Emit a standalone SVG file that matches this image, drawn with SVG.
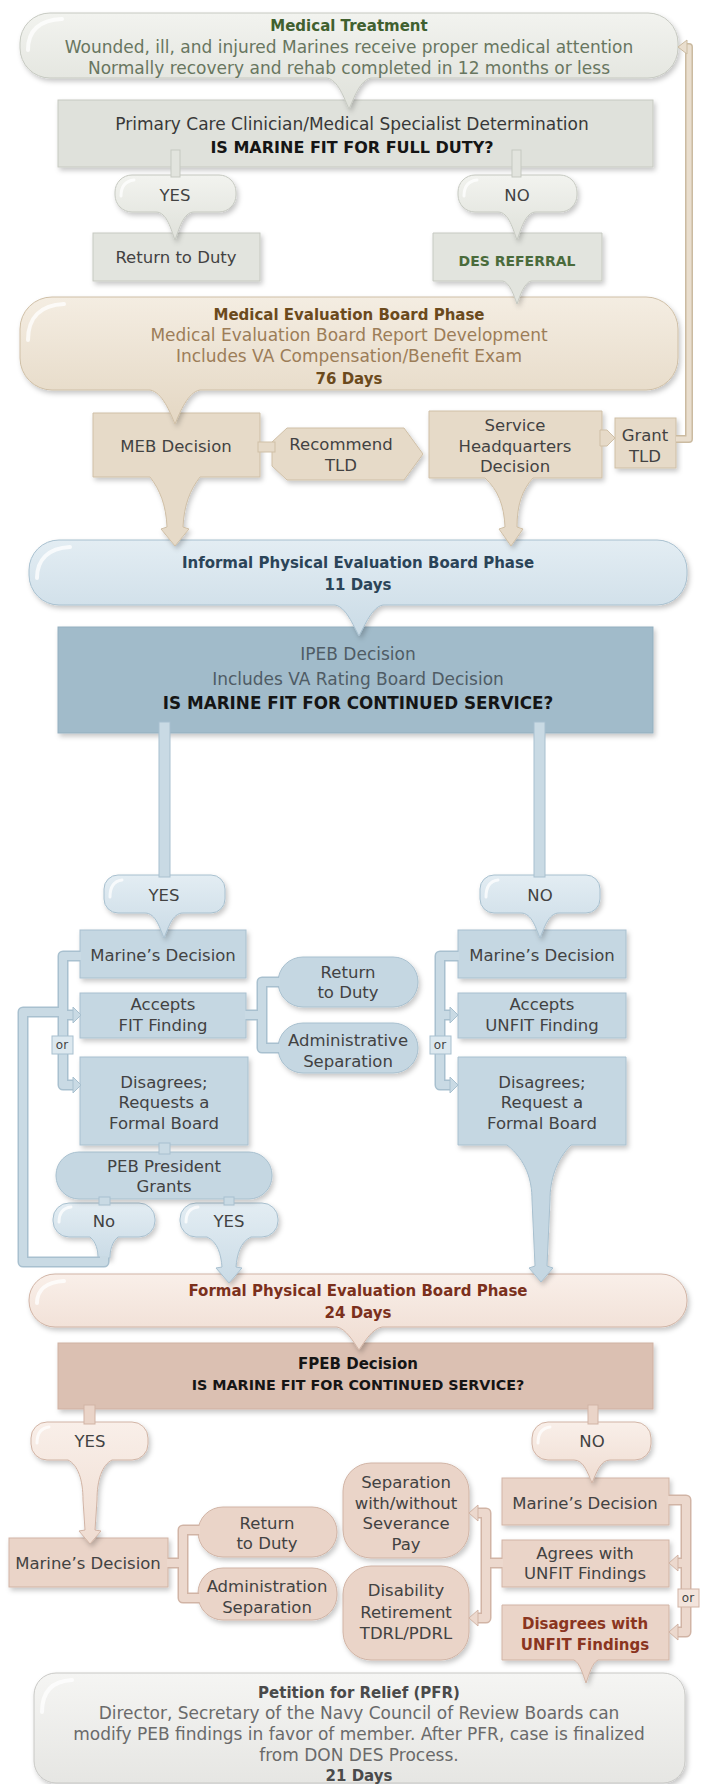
<svg xmlns="http://www.w3.org/2000/svg" width="704" height="1784" viewBox="0 0 704 1784">
<defs>
<filter id="sh" x="-6%" y="-10%" width="116%" height="135%"><feDropShadow dx="2" dy="3" stdDeviation="2.5" flood-color="#000" flood-opacity="0.22"/></filter>
<linearGradient id="gG" x1="0" y1="0" x2="0" y2="1"><stop offset="0" stop-color="#f2f3ef"/><stop offset="1" stop-color="#dfe1da"/></linearGradient>
<linearGradient id="gB" x1="0" y1="0" x2="0" y2="1"><stop offset="0" stop-color="#f4ede2"/><stop offset="1" stop-color="#e4d7c3"/></linearGradient>
<linearGradient id="gL" x1="0" y1="0" x2="0" y2="1"><stop offset="0" stop-color="#e3edf3"/><stop offset="1" stop-color="#cadbe6"/></linearGradient>
<linearGradient id="gP" x1="0" y1="0" x2="0" y2="1"><stop offset="0" stop-color="#f9efe9"/><stop offset="1" stop-color="#efdcd1"/></linearGradient>
<linearGradient id="gW" x1="0" y1="0" x2="0" y2="1"><stop offset="0" stop-color="#f5f5f3"/><stop offset="1" stop-color="#e6e6e3"/></linearGradient>
<style>
.tx{font-family:"DejaVu Sans","Liberation Sans",sans-serif;font-size:16.5px;text-anchor:middle;fill:#424242}
.lg{font-size:17px}
.bd{font-weight:bold;font-size:15px}
.cap{font-weight:bold;fill:#151515}
.or{font-size:12px;fill:#444}
.g{fill:#e2e4de;stroke:#c6c9c1;stroke-width:1}
.gp{fill:url(#gG);stroke:#c6c9c1;stroke-width:1}
.be{fill:#e6dac8;stroke:#cfbfa6;stroke-width:1}
.bp{fill:url(#gB);stroke:#cfbfa6;stroke-width:1}
.bl{fill:#c5d7e2;stroke:#a8c0cf;stroke-width:1}
.blp{fill:url(#gL);stroke:#a8c0cf;stroke-width:1}
.ipd{fill:#a1bbca;stroke:#93afbf;stroke-width:1}
.pk{fill:#ead4c8;stroke:#d1b4a5;stroke-width:1}
.pkp{fill:url(#gP);stroke:#d1b4a5;stroke-width:1}
.fpd{fill:#dbc0b2;stroke:#cfb1a2;stroke-width:1}
.wh{fill:url(#gW);stroke:#c8c8c5;stroke-width:1}
.sh{filter:url(#sh)}
.hl{fill:none;stroke:#fff;stroke-width:4;stroke-linecap:round;opacity:.75}
.lo{fill:none;stroke-linejoin:round;stroke-width:11}
.li{fill:none;stroke-linejoin:round;stroke-width:8}
.blo{stroke:#a8c0cf}.bli{stroke:#c9dae4}
.pko{stroke:#d1b4a5}.pki{stroke:#ecd8cd}
.beo{stroke:#cbbba1}.bei{stroke:#e9dece}
</style>
</defs>
<rect width="704" height="1784" fill="#fff"/>

<!-- nodes, drawn bottom to top so tails overlap the next node -->
<g id="n-pfr">
<rect class="wh sh" x="34" y="1673" width="651" height="110" rx="22"/>
<path class="hl" d="M 42 1712 C 42 1692 52 1681 72 1680"/>
<text class="tx bd" x="359" y="1698" style="fill:#4a4a4a">Petition for Relief (PFR)</text>
<text class="tx lg" x="359" y="1719" style="fill:#6a6a6a">Director, Secretary of the Navy Council of Review Boards can</text>
<text class="tx lg" x="359" y="1740" style="fill:#6a6a6a">modify PEB findings in favor of member. After PFR, case is finalized</text>
<text class="tx lg" x="359" y="1761" style="fill:#6a6a6a">from DON DES Process.</text>
<text class="tx bd" x="359" y="1781" style="fill:#4a4a4a">21 Days</text>
</g>
<g id="n-disagree-unfit">
<path class="pk sh" d="M 502 1605 H 669 V 1660 H 598 C 592 1663 589 1675 586 1683 C 583 1675 580 1663 574 1660 H 502 Z"/>
<text class="tx bd" x="585" y="1629" style="fill:#8a3520">Disagrees with</text>
<text class="tx bd" x="585" y="1650" style="fill:#8a3520">UNFIT Findings</text>
</g>
<g id="n-agree-unfit">
<rect class="pk sh" x="502" y="1540" width="167" height="47"/>
<text class="tx" x="585" y="1559">Agrees with</text>
<text class="tx" x="585" y="1579">UNFIT Findings</text>
</g>
<g id="n-md-fpeb-r">
<rect class="pk sh" x="502" y="1478" width="167" height="47"/>
<text class="tx" x="585" y="1509">Marine’s Decision</text>
</g>
<g id="n-no-fpeb">
<path class="pkp sh" d="M 548 1422 H 635 A 16 16 0 0 1 651 1438 V 1444 A 16 16 0 0 1 635 1460 H 610 C 600 1460 596 1474 592 1483 C 588 1474 584 1460 574 1460 H 548 A 16 16 0 0 1 532 1444 V 1438 A 16 16 0 0 1 548 1422 Z"/>
<path class="hl" d="M 538 1443 C 538 1433 542 1428 550 1427" style="stroke-width:3"/>
<text class="tx" x="592" y="1447">NO</text>
</g>
<g id="n-disability">
<rect class="pk sh" x="343" y="1566" width="126" height="94" rx="28"/>
<text class="tx" x="406" y="1596">Disability</text>
<text class="tx" x="406" y="1618">Retirement</text>
<text class="tx" x="406" y="1639">TDRL/PDRL</text>
</g>
<g id="n-separation">
<rect class="pk sh" x="343" y="1463" width="126" height="95" rx="28"/>
<text class="tx" x="406" y="1488">Separation</text>
<text class="tx" x="406" y="1509">with/without</text>
<text class="tx" x="406" y="1529">Severance</text>
<text class="tx" x="406" y="1550">Pay</text>
</g>
<g id="n-admin-fpeb">
<rect class="pk sh" x="198" y="1568" width="139" height="52" rx="25"/>
<text class="tx" x="267" y="1592">Administration</text>
<text class="tx" x="267" y="1613">Separation</text>
</g>
<g id="n-rtd-fpeb">
<rect class="pk sh" x="198" y="1507" width="139" height="50" rx="25"/>
<text class="tx" x="267" y="1529">Return</text>
<text class="tx" x="267" y="1549">to Duty</text>
</g>
<g id="n-md-fpeb-l">
<rect class="pk sh" x="9" y="1538" width="159" height="49"/>
<text class="tx" x="88" y="1569">Marine’s Decision</text>
</g>
<g id="n-yes-fpeb">
<path class="pkp sh" d="M 47 1422 H 132 A 16 16 0 0 1 148 1438 V 1444 A 16 16 0 0 1 132 1460 H 112 C 102 1465 97 1480 97 1500 L 95 1530 L 101 1531 L 90 1544 L 79 1531 L 85 1530 L 83 1500 C 83 1480 78 1465 68 1460 H 47 A 16 16 0 0 1 31 1444 V 1438 A 16 16 0 0 1 47 1422 Z"/>
<path class="hl" d="M 37 1443 C 37 1433 41 1428 49 1427" style="stroke-width:3"/>
<text class="tx" x="90" y="1447">YES</text>
</g>
<g id="n-fpeb-dec">
<rect class="fpd sh" x="58" y="1343" width="595" height="66"/>
<text class="tx bd cap" x="358" y="1369">FPEB Decision</text>
<text class="tx cap" x="358" y="1390" style="font-size:14.3px">IS MARINE FIT FOR CONTINUED SERVICE?</text>
</g>
<g id="n-fpeb">
<path class="pkp sh" d="M 55 1274 H 661 A 26 26 0 0 1 687 1300 V 1301 A 26 26 0 0 1 661 1327 H 382 C 372 1329 365 1341 359 1350 C 353 1341 346 1329 337 1327 H 55 A 26 26 0 0 1 29 1301 V 1300 A 26 26 0 0 1 55 1274 Z"/>
<path class="hl" d="M 37 1303 C 37 1290 46 1282 64 1281"/>
<text class="tx bd" x="358" y="1296" style="fill:#7b301c">Formal Physical Evaluation Board Phase</text>
<text class="tx bd" x="358" y="1318" style="fill:#7b301c">24 Days</text>
</g>
<g id="n-peb-yes">
<path class="blp sh" d="M 196 1203 H 262 A 16 16 0 0 1 278 1219 V 1221 A 16 16 0 0 1 262 1237 H 251 C 240 1242 237 1255 236 1267 L 242 1268 L 229 1283 L 216 1268 L 222 1267 C 221 1255 218 1242 207 1237 H 196 A 16 16 0 0 1 180 1221 V 1219 A 16 16 0 0 1 196 1203 Z"/>
<path class="hl" d="M 186 1222 C 186 1213 190 1208 198 1207" style="stroke-width:3"/>
<text class="tx" x="229" y="1227">YES</text>
</g>
<g id="n-peb-no">
<path class="blp sh" d="M 69 1203 H 139 A 16 16 0 0 1 155 1219 V 1221 A 16 16 0 0 1 139 1237 H 118 C 112 1242 110 1250 110 1258 H 98 C 98 1250 96 1242 90 1237 H 69 A 16 16 0 0 1 53 1221 V 1219 A 16 16 0 0 1 69 1203 Z"/>
<path class="hl" d="M 59 1222 C 59 1213 63 1208 71 1207" style="stroke-width:3"/>
<text class="tx" x="104" y="1227">No</text>
</g>
<g id="n-peb-pres">
<rect class="bl sh" x="56" y="1152" width="216" height="47" rx="23"/>
<text class="tx" x="164" y="1172">PEB President</text>
<text class="tx" x="164" y="1192">Grants</text>
</g>
<g id="n-dis-r">
<path class="bl sh" d="M 458 1057 H 626 V 1145 H 571 C 556 1160 550 1180 550 1200 L 547 1266 L 553 1268 L 541 1282 L 529 1268 L 535 1266 L 532 1200 C 532 1180 526 1160 507 1145 H 458 Z"/>
<text class="tx" x="542" y="1088">Disagrees;</text>
<text class="tx" x="542" y="1108">Request a</text>
<text class="tx" x="542" y="1129">Formal Board</text>
</g>
<g id="n-dis-l">
<rect class="bl sh" x="80" y="1057" width="168" height="88"/>
<text class="tx" x="164" y="1088">Disagrees;</text>
<text class="tx" x="164" y="1108">Requests a</text>
<text class="tx" x="164" y="1129">Formal Board</text>
</g>
<g id="n-admin-ipeb">
<rect class="bl sh" x="278" y="1023" width="140" height="50" rx="25"/>
<text class="tx" x="348" y="1046">Administrative</text>
<text class="tx" x="348" y="1067">Separation</text>
</g>
<g id="n-rtd-ipeb">
<rect class="bl sh" x="278" y="957" width="140" height="50" rx="25"/>
<text class="tx" x="348" y="978">Return</text>
<text class="tx" x="348" y="998">to Duty</text>
</g>
<g id="n-acc-unfit">
<rect class="bl sh" x="458" y="993" width="168" height="45"/>
<text class="tx" x="542" y="1010">Accepts</text>
<text class="tx" x="542" y="1031">UNFIT Finding</text>
</g>
<g id="n-acc-fit">
<rect class="bl sh" x="80" y="993" width="166" height="45"/>
<text class="tx" x="163" y="1010">Accepts</text>
<text class="tx" x="163" y="1031">FIT Finding</text>
</g>
<g id="n-md-r">
<rect class="bl sh" x="458" y="930" width="168" height="48"/>
<text class="tx" x="542" y="961">Marine’s Decision</text>
</g>
<g id="n-md-l">
<rect class="bl sh" x="80" y="930" width="166" height="48"/>
<text class="tx" x="163" y="961">Marine’s Decision</text>
</g>
<g id="n-ipeb-no">
<path class="blp sh" d="M 494 875 H 586 A 14 14 0 0 1 600 889 V 899 A 14 14 0 0 1 586 913 H 559 C 548 913 544 929 540 938 C 536 929 532 913 521 913 H 494 A 14 14 0 0 1 480 899 V 889 A 14 14 0 0 1 494 875 Z"/>
<path class="hl" d="M 486 897 C 486 887 490 881 498 880" style="stroke-width:3"/>
<text class="tx" x="540" y="901">NO</text>
</g>
<g id="n-ipeb-yes">
<path class="blp sh" d="M 118 875 H 211 A 14 14 0 0 1 225 889 V 899 A 14 14 0 0 1 211 913 H 183 C 172 913 168 929 164 938 C 160 929 156 913 145 913 H 118 A 14 14 0 0 1 104 899 V 889 A 14 14 0 0 1 118 875 Z"/>
<path class="hl" d="M 110 897 C 110 887 114 881 122 880" style="stroke-width:3"/>
<text class="tx" x="164" y="901">YES</text>
</g>
<g id="n-ipeb-dec">
<rect class="ipd sh" x="58" y="627" width="595" height="106"/>
<text class="tx lg" x="358" y="660" style="fill:#4f5c65">IPEB Decision</text>
<text class="tx lg" x="358" y="685" style="fill:#4f5c65">Includes VA Rating Board Decision</text>
<text class="tx cap" x="358" y="709" style="font-size:16.8px">IS MARINE FIT FOR CONTINUED SERVICE?</text>
</g>
<g id="n-ipeb">
<path class="blp sh" d="M 59 540 H 657 A 30 30 0 0 1 687 570 V 575 A 30 30 0 0 1 657 605 H 383 C 372 607 365 625 359 636 C 353 625 346 607 335 605 H 59 A 30 30 0 0 1 29 575 V 570 A 30 30 0 0 1 59 540 Z"/>
<path class="hl" d="M 37 578 C 37 560 48 548 70 547"/>
<text class="tx bd" x="358" y="568" style="fill:#2b4458">Informal Physical Evaluation Board Phase</text>
<text class="tx bd" x="358" y="590" style="fill:#2b4458">11 Days</text>
</g>
<g id="n-grant">
<rect class="be sh" x="615" y="418" width="61" height="50"/>
<text class="tx" x="645" y="441">Grant</text>
<text class="tx" x="645" y="462">TLD</text>
</g>
<g id="n-shq">
<path class="be sh" d="M 429 411 H 602 V 478 H 533 C 522 490 517 505 517 527 L 523 529 L 511 546 L 499 529 L 505 527 C 504 505 498 490 485 478 H 429 Z"/>
<text class="tx" x="515" y="431">Service</text>
<text class="tx" x="515" y="452">Headquarters</text>
<text class="tx" x="515" y="472">Decision</text>
</g>
<g id="n-rec">
<path class="be sh" d="M 287 428 H 404 L 423 454 L 404 480 H 287 L 272 466 V 442 Z" stroke-linejoin="round"/>
<text class="tx" x="341" y="450">Recommend</text>
<text class="tx" x="341" y="471">TLD</text>
</g>
<g id="n-meb-dec">
<path class="be sh" d="M 93 413 H 260 V 477 H 200 C 190 490 184 505 183 527 L 189 529 L 175 546 L 161 529 L 167 527 C 166 505 160 490 150 477 H 93 Z"/>
<text class="tx" x="176" y="452">MEB Decision</text>
</g>
<g id="n-meb">
<path class="bp sh" d="M 52 297 H 646 A 32 32 0 0 1 678 329 V 358 A 32 32 0 0 1 646 390 H 200 C 188 392 180 412 175 424 C 170 412 162 392 150 390 H 52 A 32 32 0 0 1 20 358 V 329 A 32 32 0 0 1 52 297 Z"/>
<path class="hl" d="M 28 340 C 28 318 40 305 64 304"/>
<text class="tx bd" x="349" y="320" style="fill:#6b4a1c">Medical Evaluation Board Phase</text>
<text class="tx lg" x="349" y="341" style="fill:#9c7d58">Medical Evaluation Board Report Development</text>
<text class="tx lg" x="349" y="362" style="fill:#9c7d58">Includes VA Compensation/Benefit Exam</text>
<text class="tx bd" x="349" y="384" style="fill:#6b4a1c">76 Days</text>
</g>
<g id="n-des">
<path class="g sh" d="M 433 233 H 602 V 281 H 531 C 524 283 520 296 517 304 C 514 296 510 283 503 281 H 433 Z"/>
<text class="tx bd" x="517" y="266" style="fill:#4a6b3b;font-size:14px">DES REFERRAL</text>
</g>
<g id="n-rtd1">
<rect class="g sh" x="93" y="233" width="167" height="48"/>
<text class="tx" x="176" y="263">Return to Duty</text>
</g>
<g id="n-no1">
<path class="gp sh" d="M 475 175 H 560 A 17 17 0 0 1 577 192 V 195 A 17 17 0 0 1 560 212 H 536 C 525 212 521 230 517 240 C 513 230 509 212 498 212 H 475 A 17 17 0 0 1 458 195 V 192 A 17 17 0 0 1 475 175 Z"/>
<path class="hl" d="M 464 196 C 464 187 468 181 477 180" style="stroke-width:3"/>
<text class="tx" x="517" y="201">NO</text>
</g>
<g id="n-yes1">
<path class="gp sh" d="M 132 175 H 219 A 17 17 0 0 1 236 192 V 195 A 17 17 0 0 1 219 212 H 194 C 183 212 179 230 175 240 C 171 230 167 212 156 212 H 132 A 17 17 0 0 1 115 195 V 192 A 17 17 0 0 1 132 175 Z"/>
<path class="hl" d="M 121 196 C 121 187 125 181 134 180" style="stroke-width:3"/>
<text class="tx" x="175" y="201">YES</text>
</g>
<g id="n-pcc">
<rect class="g sh" x="58" y="100" width="595" height="67" style="fill:#dfe1db"/>
<text class="tx lg" x="352" y="130" style="fill:#383838">Primary Care Clinician/Medical Specialist Determination</text>
<text class="tx cap" x="352" y="153" style="font-size:16px">IS MARINE FIT FOR FULL DUTY?</text>
</g>
<g id="n-mt">
<path class="gp sh" d="M 50 13 H 648 A 30 30 0 0 1 678 43 V 48 A 30 30 0 0 1 648 78 H 371 C 360 80 354 98 349 109 C 344 98 338 80 327 78 H 50 A 30 30 0 0 1 20 48 V 43 A 30 30 0 0 1 50 13 Z"/>
<path class="hl" d="M 28 50 C 28 30 40 20 62 19"/>
<text class="tx bd" x="349" y="31" style="fill:#40602f">Medical Treatment</text>
<text class="tx lg" x="349" y="53" style="fill:#687660">Wounded, ill, and injured Marines receive proper medical attention</text>
<text class="tx lg" x="349" y="74" style="fill:#687660">Normally recovery and rehab completed in 12 months or less</text>
</g>

<g id="connectors">
<!-- section 1 stems -->
<rect class="g" x="171" y="150" width="9" height="27"/>
<rect class="g" x="512" y="150" width="9" height="27"/>
<!-- TLD loop back to medical treatment -->
<path class="lo beo" d="M 676 439 H 689 V 47 H 684" style="stroke-width:8"/>
<path class="li bei" d="M 676 439 H 689 V 47 H 684" style="stroke-width:5"/>
<polygon points="687,40 678,47 687,54" fill="#e9dece" stroke="#cbbba1"/>
<!-- MEB decision to recommend TLD -->
<rect class="be" x="258" y="442" width="17" height="10"/>
<!-- service HQ to grant TLD -->
<polygon class="be" points="600,430 607,430 615,438 607,446 600,446"/>
<!-- IPEB stems -->
<rect class="bl" x="159" y="722" width="11" height="155" style="fill:#c9dae4"/>
<rect class="bl" x="534" y="722" width="11" height="155" style="fill:#c9dae4"/>
<!-- left bracket and No loop -->
<path class="lo blo" d="M 104 1258 V 1262 H 23 V 1012 H 63"/>
<path class="lo blo" d="M 80 956 H 63 V 1085 H 75"/>
<path class="lo blo" d="M 63 1015 H 75"/>
<path class="li bli" d="M 104 1256 V 1262 H 23 V 1012 H 63"/>
<path class="li bli" d="M 81 956 H 63 V 1085 H 75"/>
<path class="li bli" d="M 63 1015 H 75"/>
<polygon points="73,1007 81,1015 73,1023" fill="#c9dae4" stroke="#a8c0cf"/>
<polygon points="73,1077 81,1085 73,1093" fill="#c9dae4" stroke="#a8c0cf"/>
<rect x="52" y="1036" width="21" height="18" fill="#dce8ef" stroke="#a8c0cf"/>
<text class="tx or" x="62" y="1049">or</text>
<!-- right bracket -->
<path class="lo blo" d="M 458 956 H 440 V 1085 H 452"/>
<path class="lo blo" d="M 440 1015 H 452"/>
<path class="li bli" d="M 459 956 H 440 V 1085 H 452"/>
<path class="li bli" d="M 440 1015 H 452"/>
<polygon points="450,1007 458,1015 450,1023" fill="#c9dae4" stroke="#a8c0cf"/>
<polygon points="450,1077 458,1085 450,1093" fill="#c9dae4" stroke="#a8c0cf"/>
<rect x="430" y="1036" width="21" height="18" fill="#dce8ef" stroke="#a8c0cf"/>
<text class="tx or" x="440" y="1049">or</text>
<!-- accepts fit to return / admin -->
<path class="lo blo" d="M 246 1015 H 262"/>
<path class="lo blo" d="M 279 982 H 262 V 1048 H 279"/>
<path class="li bli" d="M 245 1015 H 262"/>
<path class="li bli" d="M 280 982 H 262 V 1048 H 280"/>
<!-- PEB stems -->
<rect class="bl" x="159" y="1143" width="11" height="11" style="fill:#c9dae4"/>
<rect class="bl" x="99" y="1197" width="11" height="8" style="fill:#c9dae4"/>
<rect class="bl" x="224" y="1197" width="10" height="8" style="fill:#c9dae4"/>
<!-- FPEB stems -->
<rect class="pk" x="84" y="1405" width="11" height="19"/>
<rect class="pk" x="588" y="1405" width="10" height="19"/>
<!-- FPEB left bracket -->
<path class="lo pko" d="M 168 1563 H 183"/>
<path class="lo pko" d="M 199 1530 H 183 V 1598 H 199"/>
<path class="li pki" d="M 167 1563 H 183"/>
<path class="li pki" d="M 200 1530 H 183 V 1598 H 200"/>
<!-- agrees to separation / disability -->
<path class="lo pko" d="M 502 1563 H 486"/>
<path class="lo pko" d="M 476 1513 H 486 V 1618 H 476"/>
<path class="li pki" d="M 503 1563 H 486"/>
<path class="li pki" d="M 476 1513 H 486 V 1618 H 476"/>
<polygon points="478,1505 469,1513 478,1521" fill="#ecd8cd" stroke="#d1b4a5"/>
<polygon points="478,1610 469,1618 478,1626" fill="#ecd8cd" stroke="#d1b4a5"/>
<!-- marine's decision to agrees / disagrees -->
<path class="lo pko" d="M 669 1500 H 686 V 1632 H 677"/>
<path class="lo pko" d="M 686 1563 H 677"/>
<path class="li pki" d="M 668 1500 H 686 V 1632 H 677"/>
<path class="li pki" d="M 686 1563 H 677"/>
<polygon points="678,1555 669,1563 678,1571" fill="#ecd8cd" stroke="#d1b4a5"/>
<polygon points="678,1624 669,1632 678,1640" fill="#ecd8cd" stroke="#d1b4a5"/>
<rect x="678" y="1589" width="21" height="18" fill="#f3e4dc" stroke="#d1b4a5"/>
<text class="tx or" x="688" y="1602">or</text>
</g>
</svg>
